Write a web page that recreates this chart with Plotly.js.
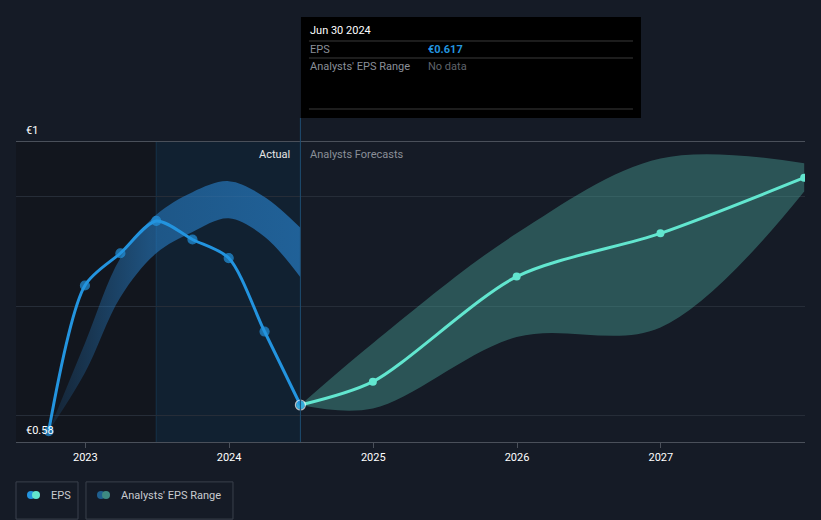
<!DOCTYPE html>
<html>
<head>
<meta charset="utf-8">
<script src="https://cdn.plot.ly/plotly-3.0.1.min.js"></script>
<style>
  html, body { margin: 0; padding: 0; background: #151b26; }
  #chart { width: 821px; height: 520px; }
</style>
</head>
<body>
<div id="chart"></div>
<script>
// EPS history (actual) and analyst forecasts, in EUR
const actualDates = ['2022-09-30', '2022-12-31', '2023-03-31', '2023-06-30', '2023-09-30', '2023-12-31', '2024-03-31', '2024-06-30'];
const actualEps = [0.579, 0.791, 0.838, 0.885, 0.858, 0.831, 0.724, 0.617];

// past analyst range around the actual period
const pastRangeHigh = [0.579, 0.707, 0.831, 0.894, 0.927, 0.943, 0.920, 0.875];
const pastRangeLow = [0.579, 0.664, 0.774, 0.838, 0.869, 0.889, 0.862, 0.803];

const forecastDates = ['2024-06-30', '2024-12-31', '2025-12-31', '2026-12-31', '2027-12-31'];
const forecastEps = [0.617, 0.651, 0.804, 0.867, 0.948];
const forecastHigh = [0.617, 0.707, 0.867, 0.976, 0.969];
const forecastLow = [0.617, 0.612, 0.716, 0.730, 0.928];

const gridValues = [0.602, 0.761, 0.92];
const yearTicks = ['2023-01-01', '2024-01-01', '2025-01-01', '2026-01-01', '2027-01-01'];
const yearLabels = ['2023', '2024', '2025', '2026', '2027'];

const blue = '#2394df';
const teal = '#62e6cf';
const font = 'Roboto, "Open Sans", sans-serif';

const xRange = ['2022-07-09', '2028-01-02'];
const yRange = [0.5631, 1.0];
const splitDate = '2023-06-30';
const nowDate = '2024-06-30';

const traces = [
  {
    x: actualDates, y: pastRangeHigh,
    type: 'scatter', mode: 'lines',
    line: { width: 0, shape: 'spline', smoothing: 1 },
    hoverinfo: 'skip', showlegend: false,
  },
  {
    x: actualDates, y: pastRangeLow,
    type: 'scatter', mode: 'lines',
    line: { width: 0, shape: 'spline', smoothing: 1 },
    fill: 'tonexty', fillcolor: 'rgba(40,130,205,0.62)',
    fillgradient: {
      type: 'horizontal',
      colorscale: [[0, 'rgba(40,130,205,0.12)'], [0.4, 'rgba(40,130,205,0.55)'], [1, 'rgba(40,130,205,0.66)']],
    },
    hoverinfo: 'skip', showlegend: false,
  },
  {
    x: forecastDates, y: forecastHigh,
    type: 'scatter', mode: 'lines',
    line: { width: 0, shape: 'spline', smoothing: 1 },
    hoverinfo: 'skip', showlegend: false,
  },
  {
    x: forecastDates, y: forecastLow,
    type: 'scatter', mode: 'lines',
    line: { width: 0, shape: 'spline', smoothing: 1 },
    fill: 'tonexty', fillcolor: 'rgba(80,180,165,0.38)',
    hoverinfo: 'skip', showlegend: false,
  },
  {
    x: forecastDates, y: forecastEps,
    type: 'scatter', mode: 'lines+markers',
    line: { color: teal, width: 3, shape: 'spline', smoothing: 0.8 },
    marker: { color: teal, size: 8 },
    showlegend: false,
  },
  {
    x: actualDates, y: actualEps,
    type: 'scatter', mode: 'lines+markers',
    line: { color: blue, width: 3, shape: 'spline', smoothing: 0.8 },
    marker: {
      color: blue, size: actualDates.map((d, i) => i === actualDates.length - 1 ? 10 : 9),
      line: { color: actualDates.map((d, i) => i === actualDates.length - 1 ? '#ffffff' : blue), width: 1.2 },
    },
    cliponaxis: false,
    showlegend: false,
  },
];

const shapes = [
  // darker history area and highlighted "last year" area
  { type: 'rect', xref: 'x', yref: 'paper', x0: xRange[0], x1: splitDate, y0: 0, y1: 1,
    fillcolor: '#12161e', line: { width: 0 }, layer: 'below' },
  { type: 'rect', xref: 'x', yref: 'paper', x0: splitDate, x1: nowDate, y0: 0, y1: 1,
    fillcolor: '#112131', line: { width: 0 }, layer: 'below' },
  { type: 'line', xref: 'x', yref: 'paper', x0: splitDate, x1: splitDate, y0: 0, y1: 1,
    line: { color: '#16324a', width: 1 }, layer: 'below' },
  { type: 'line', xref: 'x', yref: 'paper', x0: nowDate, x1: nowDate, y0: 0, y1: 1.08,
    line: { color: '#1f4d70', width: 1 } },
  // tooltip box
  { type: 'rect', xref: 'paper', yref: 'paper', x0: 0.3612, x1: 0.7921, y0: 1.08, y1: 1.4167,
    fillcolor: '#000000', line: { width: 0 } },
  { type: 'line', xref: 'paper', yref: 'paper', x0: 0.3713, x1: 0.7820, y0: 1.3367, y1: 1.3367,
    line: { color: '#3a3a3a', width: 1 } },
  { type: 'line', xref: 'paper', yref: 'paper', x0: 0.3713, x1: 0.7820, y0: 1.28, y1: 1.28,
    line: { color: '#3a3a3a', width: 1 } },
  { type: 'line', xref: 'paper', yref: 'paper', x0: 0.3713, x1: 0.7820, y0: 1.11, y1: 1.11,
    line: { color: '#3a3a3a', width: 1 } },
  // legend boxes
  { type: 'rect', xref: 'paper', yref: 'paper', x0: 0, x1: 0.0786, y0: -0.257, y1: -0.133,
    line: { color: '#3a414c', width: 1 }, fillcolor: 'rgba(0,0,0,0)' },
  { type: 'rect', xref: 'paper', yref: 'paper', x0: 0.0887, x1: 0.2750, y0: -0.257, y1: -0.133,
    line: { color: '#3a414c', width: 1 }, fillcolor: 'rgba(0,0,0,0)' },
];

// legend icons: two overlapping dots each
function dot(xPx, yPx, color) {
  const r = 4;
  return { type: 'circle', xref: 'paper', yref: 'paper',
    x0: (xPx - 16 - r) / 789, x1: (xPx - 16 + r) / 789,
    y0: (442 - yPx - r) / 300, y1: (442 - yPx + r) / 300,
    fillcolor: color, line: { width: 0 } };
}
shapes.push(dot(31, 495, blue), dot(36, 495, teal), dot(101, 495, '#1f5f8f'), dot(106, 495, '#3e8a82'));

const px = (xPx) => (xPx - 16) / 789;
const py = (yPx) => (442 - yPx) / 300;

const annotations = [
  { text: '€1', xref: 'paper', yref: 'paper', x: px(24), y: py(130), xanchor: 'left', yanchor: 'middle',
    showarrow: false, font: { family: font, size: 11, color: '#ffffff' } },
  { text: '€0.58', xref: 'paper', yref: 'paper', x: px(24), y: py(430), xanchor: 'left', yanchor: 'middle',
    showarrow: false, font: { family: font, size: 11, color: '#ffffff' } },
  { text: 'Actual', xref: 'paper', yref: 'paper', x: px(292), y: py(154), xanchor: 'right', yanchor: 'middle',
    showarrow: false, font: { family: font, size: 11, color: '#e6e6e6' } },
  { text: 'Analysts Forecasts', xref: 'paper', yref: 'paper', x: px(308), y: py(154), xanchor: 'left', yanchor: 'middle',
    showarrow: false, font: { family: font, size: 11, color: '#8a8f98' } },
  // tooltip text
  { text: 'Jun 30 2024', xref: 'paper', yref: 'paper', x: px(308), y: py(31), xanchor: 'left', yanchor: 'middle',
    showarrow: false, font: { family: font, size: 11, color: '#ffffff' } },
  { text: 'EPS', xref: 'paper', yref: 'paper', x: px(308), y: py(49.5), xanchor: 'left', yanchor: 'middle',
    showarrow: false, font: { family: font, size: 11, color: '#8a8f98' } },
  { text: '<b>€' + actualEps[actualEps.length - 1].toFixed(3) + '</b>', xref: 'paper', yref: 'paper', x: px(426), y: py(49.5),
    xanchor: 'left', yanchor: 'middle', showarrow: false, font: { family: font, size: 11, color: blue } },
  { text: "Analysts' EPS Range", xref: 'paper', yref: 'paper', x: px(308), y: py(66.5), xanchor: 'left', yanchor: 'middle',
    showarrow: false, font: { family: font, size: 11, color: '#8a8f98' } },
  { text: 'No data', xref: 'paper', yref: 'paper', x: px(426), y: py(66.5), xanchor: 'left', yanchor: 'middle',
    showarrow: false, font: { family: font, size: 11, color: '#5f636b' } },
  // legend text
  { text: 'EPS', xref: 'paper', yref: 'paper', x: px(49), y: py(495), xanchor: 'left', yanchor: 'middle',
    showarrow: false, font: { family: font, size: 11, color: '#c8cbd0' } },
  { text: "Analysts' EPS Range", xref: 'paper', yref: 'paper', x: px(119), y: py(495), xanchor: 'left', yanchor: 'middle',
    showarrow: false, font: { family: font, size: 11, color: '#c8cbd0' } },
];

const layout = {
  width: 821,
  height: 520,
  paper_bgcolor: '#151b26',
  plot_bgcolor: '#151b26',
  margin: { l: 16, r: 16, t: 142, b: 78 },
  font: { family: font, size: 11, color: '#ffffff' },
  showlegend: false,
  hovermode: false,
  xaxis: {
    type: 'date',
    range: xRange,
    tickvals: yearTicks,
    ticktext: yearLabels,
    ticks: 'outside',
    ticklen: 5,
    tickcolor: '#4a505a',
    showgrid: false,
    zeroline: false,
    showline: true,
    mirror: true,
    linecolor: '#4a505a',
    linewidth: 1,
    tickfont: { family: font, size: 11, color: '#ffffff' },
  },
  yaxis: {
    range: yRange,
    tickvals: gridValues,
    showticklabels: false,
    showgrid: true,
    gridcolor: '#262d38',
    gridwidth: 1,
    zeroline: false,
    showline: false,
  },
  shapes,
  annotations,
};

Plotly.newPlot('chart', traces, layout, { displayModeBar: false, staticPlot: true });
</script>
</body>
</html>
